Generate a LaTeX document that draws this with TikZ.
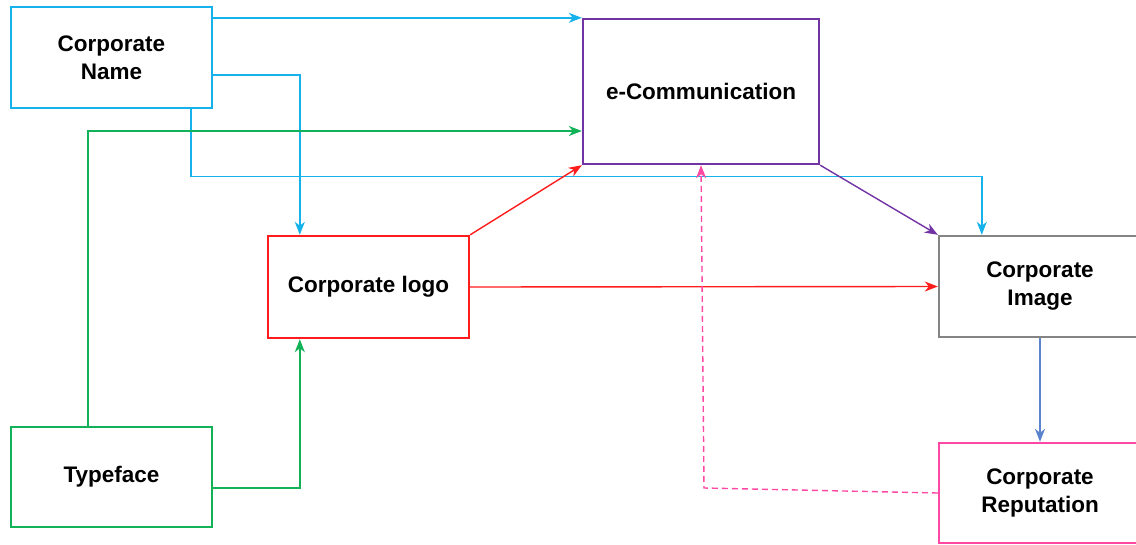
\documentclass[tikz,border=0pt]{standalone}
\usepackage{fontspec}
\setmainfont{Liberation Sans}
\usetikzlibrary{arrows.meta}

\definecolor{cname}{RGB}{22,178,236}
\definecolor{ccomm}{RGB}{114,52,164}
\definecolor{clogo}{RGB}{255,28,28}
\definecolor{cimage}{RGB}{132,132,132}
\definecolor{ctype}{RGB}{18,178,88}
\definecolor{crep}{RGB}{255,72,164}
\definecolor{csteel}{RGB}{92,132,204}

\tikzset{
  box/.style={draw, line width=2.4pt, fill=white, align=center,
    inner sep=0pt, font=\fontsize{22.5}{28}\selectfont\bfseries},
  link/.style={line width=1.4pt, -{Stealth[length=13pt,width=10pt,inset=4pt]}},
}

\begin{document}
\begin{tikzpicture}[x=1pt,y=-1pt]
\clip (0,0) rectangle (1136,544);
\fill[white] (0,0) rectangle (1136,544);

% boxes
\node[box, draw=cname, minimum width=201pt, minimum height=101pt] (name) at (111.5,57.5) {Corporate\\Name};
\node[box, draw=ccomm, minimum width=236pt, minimum height=145pt] (comm) at (701,91.5) {e-Communication};
\node[box, draw=clogo, minimum width=201pt, minimum height=102pt] (logo) at (368.5,287) {Corporate logo};
\node[box, draw=cimage, minimum width=202pt, minimum height=101pt] (image) at (1040,286.5) {Corporate\\Image};
\node[box, draw=ctype, minimum width=201pt, minimum height=100pt] (type) at (111.5,477) {Typeface};
\node[box, draw=crep, minimum width=202pt, minimum height=100pt] (rep) at (1040,493) {Corporate\\Reputation};

% corporate name links
\draw[link, cname] (name.east |- comm.north) -- (comm.north west);
\draw[link, cname] ([yshift=-17.5pt]name.east) -| ([xshift=33pt]logo.north west);
\draw[link, cname] ([xshift=181pt]name.south west) -- ++(0,67) -| ([xshift=44pt]image.north west);

% typeface links
\draw[link, ctype] ([xshift=78pt]type.north west) |- ([yshift=-39.5pt]comm.west);
\draw[link, ctype] ([yshift=-11pt]type.east) -| ([xshift=33pt]logo.south west);

% logo links
\draw[link, clogo] (logo.north east) -- (comm.south west);
\draw[link, clogo] (logo.east) -- (image.west);

% e-communication to image, image to reputation
\draw[link, ccomm] (comm.south east) -- (image.north west);
\draw[link, csteel] (image.south) -- (rep.north);

% feedback from reputation
\coordinate (turn) at (704,488);
\draw[link, crep, dash pattern=on 6pt off 4pt] (rep.west) -- (turn) -- (comm.south);
\end{tikzpicture}
\end{document}
